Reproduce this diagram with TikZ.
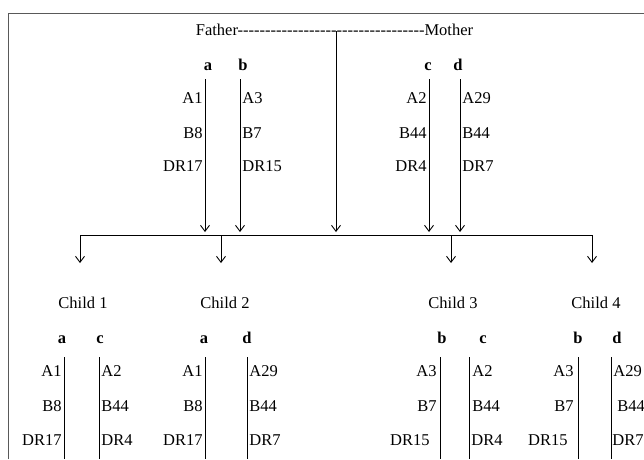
\documentclass[tikz,border=0pt]{standalone}
\usepackage{fontspec}
\setmainfont{Liberation Serif}[Ligatures=TeXOff]
\usetikzlibrary{arrows.meta}

\begin{document}
\begin{tikzpicture}[x=1pt,y=-1pt,>={Straight Barb[length=6pt,width=9pt]},line width=0.9pt,
    every node/.style={font=\fontsize{16.5}{19}\selectfont,inner sep=1pt},
    hap/.style={anchor=base,font=\fontsize{16.5}{19}\selectfont\bfseries},
    lft/.style={anchor=base east},
    rgt/.style={anchor=base west},
    frame/.style={draw=black!65,line width=1pt}]
		\useasboundingbox (0,0) rectangle (644,459);
		\draw[frame] (8,459) -- (8,13) -- (644,13);

		% parents
		\node[anchor=base]      (parents)  at (334.5,35)   {Father----------------------------------Mother};
		\coordinate             (union)    at (336,31);
		\coordinate             (bar L)    at (80,235);
		\coordinate             (bar R)    at (592,235);

		\node[hap]              (Fa)       at (208,70)     {a};
		\node[hap]              (Fb)       at (243,70)     {b};
		\node[hap]              (Mc)       at (428,70)     {c};
		\node[hap]              (Md)       at (458,70)     {d};

		\coordinate (Fa top) at (205,79);  \coordinate (Fa end) at (205,232);
		\coordinate (Fb top) at (240,79);  \coordinate (Fb end) at (240,232);
		\coordinate (Mc top) at (429,79);  \coordinate (Mc end) at (429,232);
		\coordinate (Md top) at (460,79);  \coordinate (Md end) at (460,232);
		\coordinate (union end) at (336,232);

		\node[lft] (Fa1) at (204,103) {A1};
		\node[lft] (Fa2) at (204,138) {B8};
		\node[lft] (Fa3) at (204,171) {DR17};
		\node[rgt] (Fb1) at (241,103) {A3};
		\node[rgt] (Fb2) at (241,138) {B7};
		\node[rgt] (Fb3) at (241,171) {DR15};
		\node[lft] (Mc1) at (428,103) {A2};
		\node[lft] (Mc2) at (428,138) {B44};
		\node[lft] (Mc3) at (428,171) {DR4};
		\node[rgt] (Md1) at (461,103) {A29};
		\node[rgt] (Md2) at (461,138) {B44};
		\node[rgt] (Md3) at (461,171) {DR7};

		\draw[->] (Fa top) -- (Fa end);
		\draw[->] (Fb top) -- (Fb end);
		\draw[->] (Mc top) -- (Mc end);
		\draw[->] (Md top) -- (Md end);
		\draw[->] (union) -- (union end);
		\draw (bar L) -- (bar R);

		% children
		\node[anchor=base] (C1) at (83,308)  {Child 1};
		\node[anchor=base] (C2) at (225,308) {Child 2};
		\node[anchor=base] (C3) at (453,308) {Child 3};
		\node[anchor=base] (C4) at (596,308) {Child 4};

		\coordinate (C1 in) at (80,263);
		\coordinate (bar 2) at (221,235);  \coordinate (C2 in) at (221,263);
		\coordinate (bar 3) at (451,235);  \coordinate (C3 in) at (451,263);
		\coordinate (C4 in) at (592,263);

		\draw[->] (bar L) -- (C1 in);
		\draw[->] (bar 2) -- (C2 in);
		\draw[->] (bar 3) -- (C3 in);
		\draw[->] (bar R) -- (C4 in);

		\node[hap] (C1a) at (62,343)  {a};
		\node[hap] (C1c) at (100,343) {c};
		\node[hap] (C2a) at (204,343) {a};
		\node[hap] (C2d) at (247,343) {d};
		\node[hap] (C3b) at (442,343) {b};
		\node[hap] (C3c) at (483,343) {c};
		\node[hap] (C4b) at (578,343) {b};
		\node[hap] (C4d) at (617,343) {d};

		\coordinate (C1a top) at (64,357);   \coordinate (C1a end) at (64,459);
		\coordinate (C1c top) at (99,357);   \coordinate (C1c end) at (99,459);
		\coordinate (C2a top) at (205,357);  \coordinate (C2a end) at (205,459);
		\coordinate (C2d top) at (247,357);  \coordinate (C2d end) at (247,459);
		\coordinate (C3b top) at (440,357);  \coordinate (C3b end) at (440,459);
		\coordinate (C3c top) at (469,357);  \coordinate (C3c end) at (469,459);
		\coordinate (C4b top) at (578,357);  \coordinate (C4b end) at (578,459);
		\coordinate (C4d top) at (611,357);  \coordinate (C4d end) at (611,459);

		\draw (C1a top) -- (C1a end);
		\draw (C1c top) -- (C1c end);
		\draw (C2a top) -- (C2a end);
		\draw (C2d top) -- (C2d end);
		\draw (C3b top) -- (C3b end);
		\draw (C3c top) -- (C3c end);
		\draw (C4b top) -- (C4b end);
		\draw (C4d top) -- (C4d end);

		\node[lft] (C1a1) at (63,376)  {A1};
		\node[lft] (C1a2) at (63,411)  {B8};
		\node[lft] (C1a3) at (63,445)  {DR17};
		\node[rgt] (C1c1) at (100,376) {A2};
		\node[rgt] (C1c2) at (100,411) {B44};
		\node[rgt] (C1c3) at (100,445) {DR4};

		\node[lft] (C2a1) at (204,376) {A1};
		\node[lft] (C2a2) at (204,411) {B8};
		\node[lft] (C2a3) at (204,445) {DR17};
		\node[rgt] (C2d1) at (248,376) {A29};
		\node[rgt] (C2d2) at (248,411) {B44};
		\node[rgt] (C2d3) at (248,445) {DR7};

		\node[lft] (C3b1) at (438,376) {A3};
		\node[lft] (C3b2) at (438,411) {B7};
		\node[lft] (C3b3) at (431,445) {DR15};
		\node[rgt] (C3c1) at (471,376) {A2};
		\node[rgt] (C3c2) at (471,411) {B44};
		\node[rgt] (C3c3) at (470,445) {DR4};

		\node[lft] (C4b1) at (575,376) {A3};
		\node[lft] (C4b2) at (575,411) {B7};
		\node[lft] (C4b3) at (569,445) {DR15};
		\node[rgt] (C4d1) at (612,376) {A29};
		\node[rgt] (C4d2) at (616,411) {B44};
		\node[rgt] (C4d3) at (611,445) {DR7};
\end{tikzpicture}
\end{document}
